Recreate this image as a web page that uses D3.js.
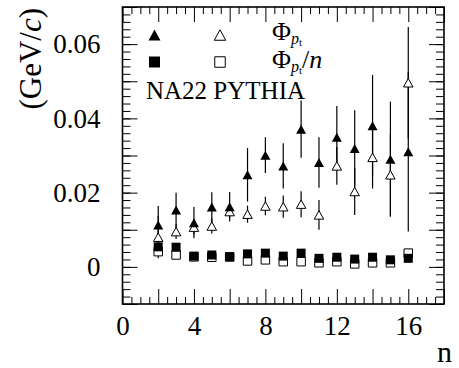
<!DOCTYPE html>
<html><head><meta charset="utf-8">
<script src="https://cdn.jsdelivr.net/npm/d3@7"></script>
<style>body{margin:0;background:#fff} svg text{font-family:"Liberation Serif","DejaVu Serif",serif !important;}</style></head>
<body><svg id="c" width="459" height="368"></svg>
<script>
const nValues = [2,3,4,5,6,7,8,9,10,11,12,13,14,15,16];
// NA22 data: Phi_pt (filled triangles)
const phiData = [0.0113,0.0153,0.0119,0.0161,0.0162,0.0248,0.0301,0.0272,0.0371,0.0281,0.0349,0.0319,0.0380,0.0290,0.0310];
const phiDataErr = [0.0051,0.0047,0.0042,0.0040,0.0040,0.0072,0.0048,0.0061,0.0077,0.0068,0.0084,0.0103,0.0137,0.0155,0.0215];
// PYTHIA: Phi_pt (open triangles)
const phiPythia = [0.0080,0.0095,0.0107,0.0110,0.0149,0.0142,0.0164,0.0162,0.0169,0.0140,0.0272,0.0203,0.0295,0.0248,0.0496];
const phiPythiaErr = [0.0057,0.0020,0.0020,0.0020,0.0017,0.0023,0.0025,0.0030,0.0035,0.0040,0.0051,0.0063,0.0084,0.0110,0.0150];
// Phi_pt / n
const phiNData = [0.0054,0.0053,0.0029,0.0032,0.0027,0.0035,0.0037,0.0029,0.0037,0.0023,0.0026,0.0021,0.0026,0.0019,0.0023];
const phiNPythia = [0.0041,0.0032,0.0027,0.0026,0.0027,0.0016,0.0019,0.0014,0.0014,0.0011,0.0014,0.0008,0.0011,0.0011,0.0037];
const xTickLabels = [0,4,8,12,16];
const yTickLabels = [0,0.02,0.04,0.06];

const svg = d3.select("#c");
const L = 122.5, R = 444, T = 7, B = 304;
const x = d3.scaleLinear().domain([0,18]).range([L,R]);
const y = d3.scaleLinear().domain([-0.01,0.07]).range([B,T]);

// ticks
const xMajor = d3.range(0,18.001,2), xMinor = d3.range(0,18.001,0.5).filter(v=>v%2!==0);
const yMajor = d3.range(-0.01,0.0701,0.01), yMinor = d3.range(-0.01,0.0701,0.002);
function tickAxis(gen, scale, vals, size, tr){
  svg.append("g").attr("transform",tr)
    .call(gen(scale).tickValues(vals).tickSize(size).tickFormat(""))
    .call(g=>g.select(".domain").remove())
    .selectAll("line").attr("stroke","#000").attr("stroke-width",1);
}
tickAxis(d3.axisBottom,x,xMajor,-15,`translate(0,${B})`);
tickAxis(d3.axisBottom,x,xMinor,-7,`translate(0,${B})`);
tickAxis(d3.axisTop,x,xMajor,-15,`translate(0,${T})`);
tickAxis(d3.axisTop,x,xMinor,-7,`translate(0,${T})`);
tickAxis(d3.axisLeft,y,yMajor,-15,`translate(${L},0)`);
tickAxis(d3.axisLeft,y,yMinor,-8,`translate(${L},0)`);
tickAxis(d3.axisRight,y,yMajor,-15,`translate(${R},0)`);
tickAxis(d3.axisRight,y,yMinor,-8,`translate(${R},0)`);

// labels
const xl = svg.append("g").attr("transform",`translate(0,${B})`)
  .call(d3.axisBottom(x).tickValues(xTickLabels).tickSize(0).tickPadding(12).tickFormat(d3.format("d")));
xl.select(".domain").remove();
xl.selectAll("text").style("font-size","27px").attr("fill","#000");
const yl = svg.append("g").attr("transform",`translate(${L},0)`)
  .call(d3.axisLeft(y).tickValues(yTickLabels).tickSize(0).tickPadding(22).tickFormat(d=>d===0?"0":d3.format(".2f")(d)));
yl.select(".domain").remove();
yl.selectAll("text").style("font-size","27px").attr("fill","#000");

// frame
svg.append("rect").attr("x",L).attr("y",T).attr("width",R-L).attr("height",B-T)
  .attr("fill","none").attr("stroke","#000").attr("stroke-width",1.6);

// axis titles
svg.append("text").attr("x",437).attr("y",362).style("font-size","30px").text("n");
const yt = svg.append("text").attr("transform","translate(41,8) rotate(-90)")
  .attr("text-anchor","end").style("font-size","31px");
yt.append("tspan").text("(GeV/");
yt.append("tspan").attr("font-style","italic").text("c");
yt.append("tspan").text(")");

// markers
function triPath(cx,cy,w,h){return `M${cx-w/2},${cy+h/2}L${cx+w/2},${cy+h/2}L${cx},${cy-h/2}Z`;}
function sqPath(cx,cy,s){return `M${cx-s/2},${cy-s/2}h${s}v${s}h${-s}Z`;}
const pts = nValues.map((n,i)=>({n,i}));

// error bars
svg.append("g").selectAll("line").data(pts).join("line")
  .attr("x1",d=>x(d.n)).attr("x2",d=>x(d.n))
  .attr("y1",d=>y(phiPythia[d.i]+phiPythiaErr[d.i])).attr("y2",d=>y(phiPythia[d.i]-phiPythiaErr[d.i]))
  .attr("stroke","#000").attr("stroke-width",1.2);
svg.append("g").selectAll("line").data(pts).join("line")
  .attr("x1",d=>x(d.n)).attr("x2",d=>x(d.n))
  .attr("y1",d=>y(phiData[d.i]+phiDataErr[d.i])).attr("y2",d=>y(phiData[d.i]-phiDataErr[d.i]))
  .attr("stroke","#000").attr("stroke-width",1.2);

// open squares then filled squares
svg.append("g").selectAll("path").data(pts).join("path")
  .attr("d",d=>sqPath(x(d.n),y(phiNPythia[d.i]),8.5)).attr("fill","#fff").attr("stroke","#000").attr("stroke-width",1);
svg.append("g").selectAll("path").data(pts).join("path")
  .attr("d",d=>sqPath(x(d.n),y(phiNData[d.i]),9)).attr("fill","#000");
// open triangles then filled
svg.append("g").selectAll("path").data(pts).join("path")
  .attr("d",d=>triPath(x(d.n),y(phiPythia[d.i]),9.5,8.5)).attr("fill","#fff").attr("stroke","#000").attr("stroke-width",1);
svg.append("g").selectAll("path").data(pts).join("path")
  .attr("d",d=>triPath(x(d.n),y(phiData[d.i]),10,9)).attr("fill","#000");

// legend
svg.append("path").attr("d",triPath(154.5,35,12,11)).attr("fill","#000");
svg.append("path").attr("d",triPath(220,35,11.5,10.5)).attr("fill","#fff").attr("stroke","#000").attr("stroke-width",1);
svg.append("path").attr("d",sqPath(154.5,62,11)).attr("fill","#000");
svg.append("path").attr("d",sqPath(220,62,10.5)).attr("fill","#fff").attr("stroke","#000").attr("stroke-width",1);
function phiLabel(yb, withN){
  const t = svg.append("text").attr("x",272).attr("y",yb).style("font-size","26px");
  t.append("tspan").text("Φ");
  t.append("tspan").attr("font-style","italic").style("font-size","16px").attr("dy",4).text("p");
  t.append("tspan").style("font-size","11px").attr("dy",2).text("t");
  if(withN){
    t.append("tspan").attr("dy",-6).text("/");
    t.append("tspan").attr("font-style","italic").text("n");
  }
}
phiLabel(40,false);
phiLabel(68,true);
svg.append("text").attr("x",146).attr("y",99).style("font-size","25px").text("NA22 PYTHIA");
</script></body></html>
